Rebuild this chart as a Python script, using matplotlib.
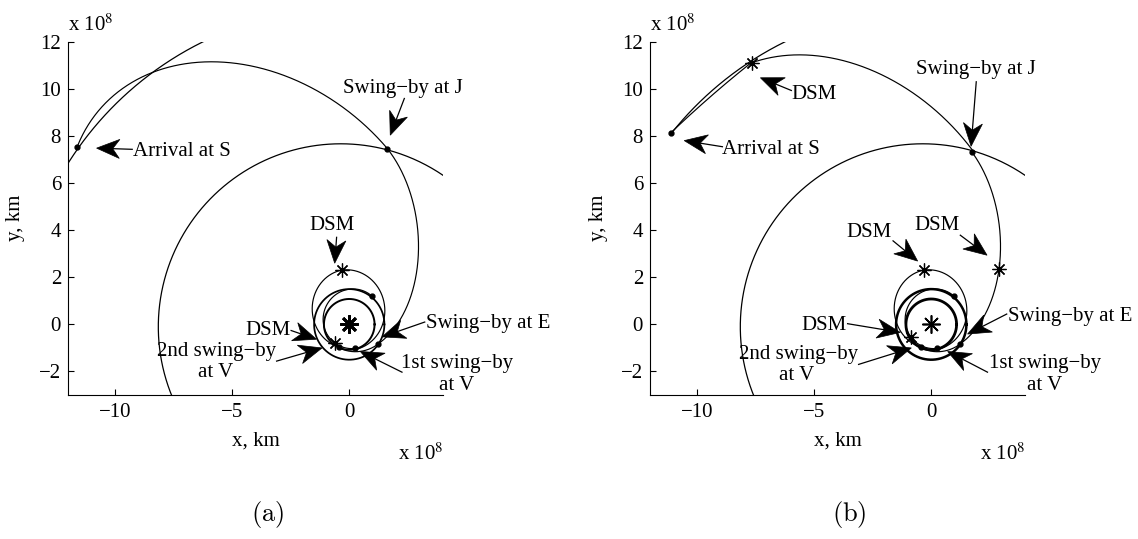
import numpy as np
import matplotlib
matplotlib.use('Agg')
import matplotlib.pyplot as plt
from matplotlib.patches import Polygon

plt.rcParams['font.family'] = ['Liberation Serif', 'DejaVu Serif']
plt.rcParams['font.size'] = 15

# orbit geometry, units of 1e8 km; conics given as (p, e, periapsis angle deg)
venus_r = 1.08
earth_r = 1.50
jupiter_orbit = (7.761, 0.0489, 14.7)
saturn_orbit = (14.224, 0.0565, 92.0)
jupiter_span = (57.7, 215.0)
saturn_span = {'a': (108.0, 165.0), 'b': (108.0, 143.8)}

# trajectory legs: (p, e, w, theta_start, theta_end)
legs = {
    'a': [
        (1.216, 0.216, 240.0, 50.7, 283.0),    # E -> V1
        (1.490, 0.360, 277.5, 283.0, 457.5),   # V1 -> DSM
        (1.4325, 0.387, 272.4, 457.5, 605.0),  # DSM -> V2
        (1.437, 0.343, 230.0, 245.0, 326.5),   # V2 -> E
        (2.200, 0.750, 276.0, 326.5, 437.7),   # E -> J
        (5.430, 0.613, 319.5, 77.7, 147.0),    # J -> S
    ],
    'b': [
        (1.216, 0.216, 240.0, 50.7, 283.0),
        (1.490, 0.360, 277.5, 283.0, 457.5),
        (1.4325, 0.387, 272.4, 457.5, 605.0),
        (1.437, 0.343, 230.0, 245.0, 326.5),
        (2.200, 0.750, 276.0, 326.5, 436.7),
        (4.920, 0.643, 313.3, 76.7, 124.6),    # J -> DSM
        (50.40, 2.740, 129.8, 124.6, 143.8),   # DSM -> S
    ],
}

# events as (leg index, true longitude deg)
dots = {
    'a': [(0, 50.7), (0, 283.0), (2, 605.0), (3, 326.5), (4, 437.7), (5, 147.0)],
    'b': [(0, 50.7), (0, 283.0), (2, 605.0), (3, 326.5), (4, 436.7), (6, 143.8)],
}
stars = {
    'a': [(1, 457.5), (0, 234.0)],
    'b': [(1, 457.5), (0, 212.0), (4, 399.2), (5, 124.6)],
}

# labels: text, text position, alignment, arrow tail, arrow tip
labels = {
    'a': [
        ('Swing\u2212by at J', (2.30, 10.04), 'center', (2.35, 9.60), (1.75, 8.04)),
        ('Arrival at S', (-9.22, 7.33), 'left', (-9.26, 7.44), (-10.78, 7.49)),
        ('DSM', (-0.74, 4.21), 'center', (-0.54, 3.70), (-0.62, 2.60)),
        ('Swing\u2212by at E', (3.29, 0.02), 'left', (3.22, 0.10), (1.40, -0.53)),
        ('DSM', (-2.48, -0.26), 'right', (-2.48, -0.26), (-1.40, -0.63)),
        ('2nd swing\u2212by', (-5.66, -1.15), 'center', (-3.10, -1.56), (-1.16, -1.00)),
        ('at V', (-5.70, -2.03), 'center', None, None),
        ('1st swing\u2212by', (4.60, -1.66), 'center', (2.25, -2.03), (0.47, -1.15)),
        ('at V', (4.60, -2.61), 'center', None, None),
    ],
    'b': [
        ('Swing\u2212by at J', (1.91, 10.82), 'center', (1.92, 10.31), (1.70, 7.57)),
        ('Arrival at S', (-8.91, 7.44), 'left', (-8.91, 7.55), (-10.54, 7.81)),
        ('DSM', (-5.97, 9.79), 'left', (-5.97, 9.94), (-7.29, 10.48)),
        ('DSM', (-2.64, 3.92), 'center', (-1.63, 3.55), (-0.58, 2.69)),
        ('DSM', (0.25, 4.21), 'center', (1.24, 3.79), (2.38, 2.94)),
        ('Swing\u2212by at E', (3.26, 0.32), 'left', (3.22, 0.44), (1.55, -0.41)),
        ('DSM', (-3.61, -0.04), 'right', (-3.57, 0.03), (-1.32, -0.34)),
        ('2nd swing\u2212by', (-5.67, -1.29), 'center', (-3.10, -1.70), (-0.85, -1.00)),
        ('at V', (-5.74, -2.17), 'center', None, None),
        ('1st swing\u2212by', (4.85, -1.66), 'center', (2.40, -2.03), (0.70, -1.15)),
        ('at V', (4.82, -2.61), 'center', None, None),
    ],
}

xticks = [-10, -5, 0]
yticks = [-2, 0, 2, 4, 6, 8, 10, 12]


def conic(p, e, w, t0, t1, n=500):
    th = np.radians(np.linspace(t0, t1, n))
    r = p / (1 + e * np.cos(th - np.radians(w)))
    return r * np.cos(th), r * np.sin(th)


def point_on(leg, t):
    p, e, w = leg[:3]
    th = np.radians(t)
    r = p / (1 + e * np.cos(th - np.radians(w)))
    return r * np.cos(th), r * np.sin(th)


def vback_arrow(ax, tail, tip, length=23, width=19, notch=0.7):
    # matlab-like notched arrow head, sized in pixels
    tr = ax.transData
    t = tr.transform(tip)
    s = tr.transform(tail)
    d = (t - s) / np.hypot(*(t - s))
    n = np.array([-d[1], d[0]])
    back = t - d * length
    mid = t - d * length * notch
    head = tr.inverted().transform([t, back + n * width / 2, mid, back - n * width / 2])
    ax.add_patch(Polygon(head, closed=True, facecolor='k', edgecolor='k', lw=0.5))
    m = tr.inverted().transform(mid)
    ax.plot([tail[0], m[0]], [tail[1], m[1]], color='k', lw=0.9)


W, H = 1138, 539
fig = plt.figure(figsize=(W / 100, H / 100), dpi=100)
lefts = {'a': 68, 'b': 650}
ax_top, ax_bot, ax_w = 42, 395, 375
planet_lw = {'a': 1.4, 'b': 2.0}
sun_mew = {'a': 2.0, 'b': 1.2}

for key in ['a', 'b']:
    x0 = lefts[key]
    ax = fig.add_axes([x0 / W, 1 - ax_bot / H, ax_w / W, (ax_bot - ax_top) / H])
    ax.set_xlim(-12, 4)
    ax.set_ylim(-3, 12)
    for s in ['top', 'right']:
        ax.spines[s].set_visible(False)
    ax.set_xticks(xticks)
    ax.set_yticks(yticks)
    ax.tick_params(direction='in', length=4, width=0.8, labelsize=15)
    ax.tick_params(axis='y', pad=5)
    ax.tick_params(axis='x', pad=6)

    # planets
    ax.plot(*conic(venus_r, 0, 0, 0, 360), color='k', lw=planet_lw[key])
    ax.plot(*conic(earth_r, 0, 0, 0, 360), color='k', lw=planet_lw[key] * 0.9)
    ax.plot(*conic(*jupiter_orbit, *jupiter_span), color='k', lw=0.9)
    ax.plot(*conic(*saturn_orbit, *saturn_span[key]), color='k', lw=0.9)

    for leg in legs[key]:
        ax.plot(*conic(*leg), color='k', lw=0.85)

    for i, th in dots[key]:
        x, y = point_on(legs[key][i], th)
        ax.plot(x, y, 'o', color='k', ms=3.5)
    for i, th in stars[key]:
        x, y = point_on(legs[key][i], th)
        ax.plot(x, y, marker=(8, 2, 0), color='k', ms=10, mew=0.9)
    ax.plot(0, 0, marker=(8, 2, 0), color='k', ms=13, mew=sun_mew[key])

    for txt, pos, ha, tail, tip in labels[key]:
        ax.text(pos[0], pos[1], txt, ha=ha, va='center', fontsize=15)
        if tail is not None:
            vback_arrow(ax, tail, tip)

    cx = x0 + ax_w / 2
    fig.text(x0 / W, 1 - 31 / H, 'x 10$^{8}$', ha='left', va='baseline',
             fontsize=15, math_fontfamily='stix')
    fig.text((x0 + ax_w) / W, 1 - 460 / H, 'x 10$^{8}$', ha='right', va='baseline',
             fontsize=15, math_fontfamily='stix')
    fig.text(cx / W, 1 - 441 / H, 'x, km', ha='center', va='center', fontsize=15)
    fig.text((x0 - 52) / W, 1 - 218 / H, 'y, km', ha='center', va='center',
             rotation=90, fontsize=15)
    fig.text((cx + 12) / W, 1 - 514 / H, r'$(\mathrm{' + key + '})$', ha='center',
             va='center', fontsize=19, math_fontfamily='cm')

fig.savefig('out.png', dpi=100)
